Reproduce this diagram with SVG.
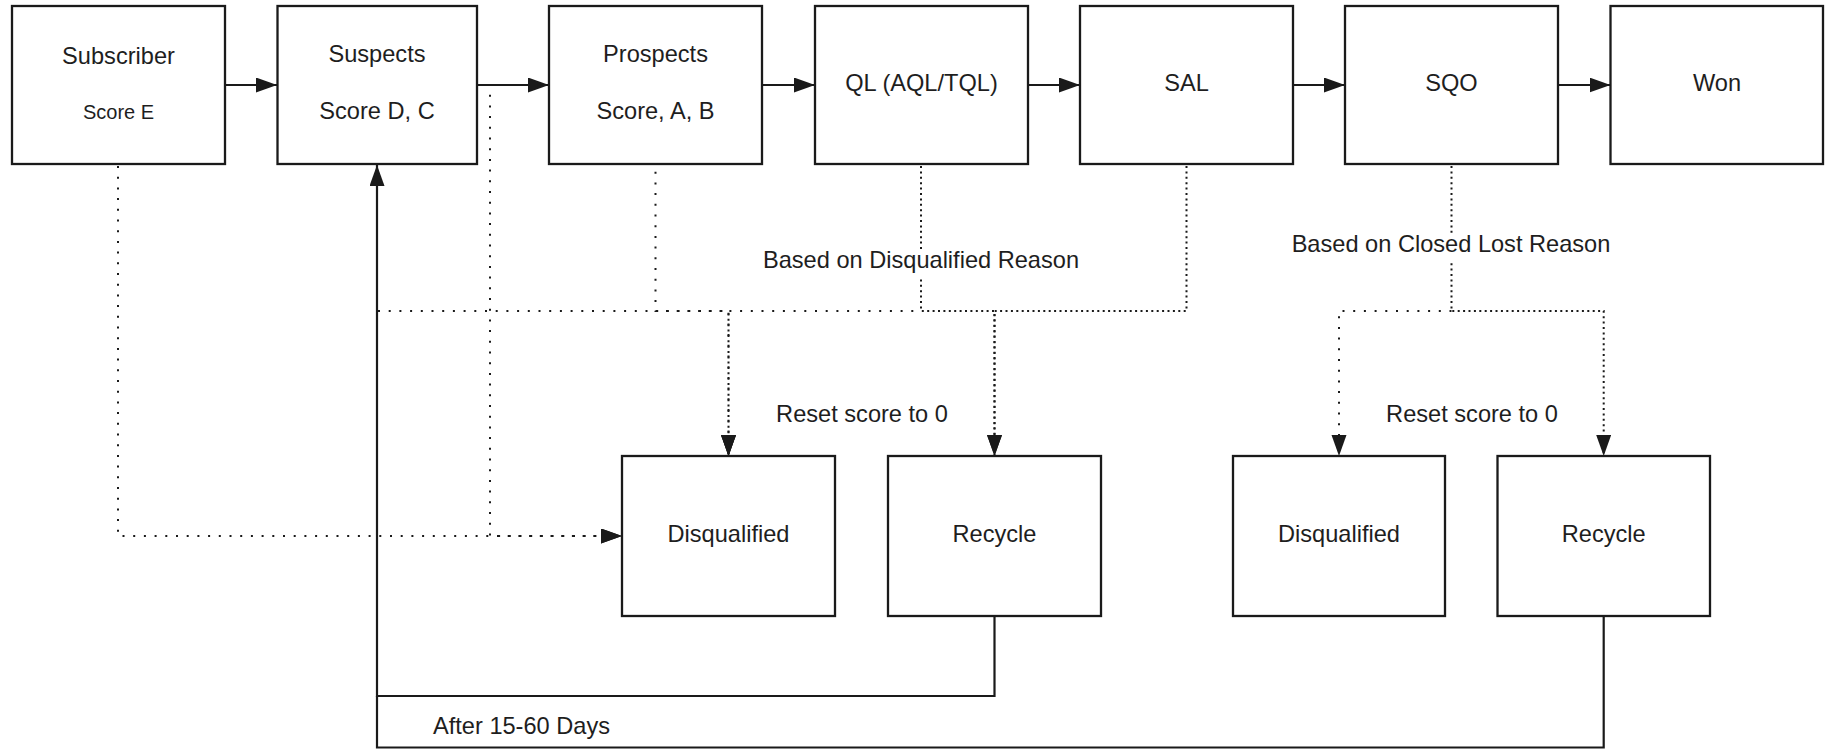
<svg xmlns="http://www.w3.org/2000/svg" width="1827" height="749" viewBox="0 0 1827 749">
<style>
.box{fill:#fff;stroke:#1a1a1a;stroke-width:2.3}
.t{font-family:"Liberation Sans",Arial,sans-serif;font-size:23.6px;fill:#1e1e1e;text-anchor:middle}
.s{font-size:20px}
.solid{fill:none;stroke:#1a1a1a;stroke-width:2.2}
.dot{fill:none;stroke:#1a1a1a;stroke-width:2;stroke-dasharray:2 8.7}
.dotd{fill:none;stroke:#1a1a1a;stroke-width:2;stroke-dasharray:2 3.4}
.bg{fill:#fff}
</style>
<defs>
<marker id="ah" markerUnits="userSpaceOnUse" markerWidth="22" markerHeight="16" refX="21" refY="7.5" orient="auto">
<path d="M0,0 L21,7.5 L0,15 z" fill="#1a1a1a"/>
</marker>
</defs>
<rect width="1827" height="749" fill="#fff"/>

<g id="connectors">
<path class="solid" d="M225,85 H277" marker-end="url(#ah)"/>
<path class="solid" d="M477,85 H549" marker-end="url(#ah)"/>
<path class="solid" d="M762,85 H815" marker-end="url(#ah)"/>
<path class="solid" d="M1028,85 H1080" marker-end="url(#ah)"/>
<path class="solid" d="M1293,85 H1345" marker-end="url(#ah)"/>
<path class="solid" d="M1558,85 H1610.5" marker-end="url(#ah)"/>
<path class="solid" d="M994.5,616 V696 H377 V165" marker-end="url(#ah)"/>
<path class="solid" d="M1603.7,616 V747.5 H377 V696"/>

<path class="dot" d="M118,166 V536 H622" marker-end="url(#ah)"/>
<path class="dot" d="M490,88 V536 H622" stroke-dashoffset="4" marker-end="url(#ah)"/>
<path class="dot" d="M378,311 H728.5 V456" marker-end="url(#ah)"/>
<path class="dot" d="M655.5,166 V311 H728.5 V456" stroke-dashoffset="5" marker-end="url(#ah)"/>
<path class="dot" d="M921,311 H728.5 V456" stroke-dashoffset="3" marker-end="url(#ah)"/>
<path class="dotd" d="M921,166 V311 H994.5 V456" marker-end="url(#ah)"/>
<path class="dotd" d="M1186.5,166 V311 H994.5 V456" marker-end="url(#ah)"/>
<path class="dotd" d="M1451.5,166 V311 H1603.7 V456" marker-end="url(#ah)"/>
<path class="dot" d="M1451.5,311 H1339 V456" marker-end="url(#ah)"/>

<rect class="bg" x="758" y="250" width="326" height="28"/>
<text class="t" x="921" y="268.3">Based on Disqualified Reason</text>
<rect class="bg" x="1287" y="233" width="328" height="30"/>
<text class="t" x="1451" y="251.7">Based on Closed Lost Reason</text>
<text class="t" x="862" y="421.7">Reset score to 0</text>
<text class="t" x="1472" y="421.7">Reset score to 0</text>
<text class="t" x="433" y="734" style="text-anchor:start">After 15-60 Days</text>
</g>

<g id="subscriber">
<rect class="box" x="12" y="6" width="213" height="158"/>
<text class="t" x="118.5" y="64">Subscriber</text>
<text class="t s" x="118.5" y="118.7">Score E</text>
</g>
<g id="suspects">
<rect class="box" x="277.5" y="6" width="199.5" height="158"/>
<text class="t" x="377" y="62">Suspects</text>
<text class="t" x="377" y="119">Score D, C</text>
</g>
<g id="prospects">
<rect class="box" x="549" y="6" width="213" height="158"/>
<text class="t" x="655.5" y="62">Prospects</text>
<text class="t" x="655.5" y="119">Score, A, B</text>
</g>
<g id="ql">
<rect class="box" x="815" y="6" width="213" height="158"/>
<text class="t" x="921.5" y="90.5">QL (AQL/TQL)</text>
</g>
<g id="sal">
<rect class="box" x="1080" y="6" width="213" height="158"/>
<text class="t" x="1186.5" y="90.5">SAL</text>
</g>
<g id="sqo">
<rect class="box" x="1345" y="6" width="213" height="158"/>
<text class="t" x="1451.5" y="90.5">SQO</text>
</g>
<g id="won">
<rect class="box" x="1610.5" y="6" width="212.5" height="158"/>
<text class="t" x="1717" y="90.5">Won</text>
</g>
<g id="disqualified1">
<rect class="box" x="622" y="456" width="213" height="160"/>
<text class="t" x="728.5" y="542">Disqualified</text>
</g>
<g id="recycle1">
<rect class="box" x="888" y="456" width="213" height="160"/>
<text class="t" x="994.5" y="542">Recycle</text>
</g>
<g id="disqualified2">
<rect class="box" x="1233" y="456" width="212" height="160"/>
<text class="t" x="1339" y="542">Disqualified</text>
</g>
<g id="recycle2">
<rect class="box" x="1497.5" y="456" width="212.5" height="160"/>
<text class="t" x="1603.7" y="542">Recycle</text>
</g>
</svg>
